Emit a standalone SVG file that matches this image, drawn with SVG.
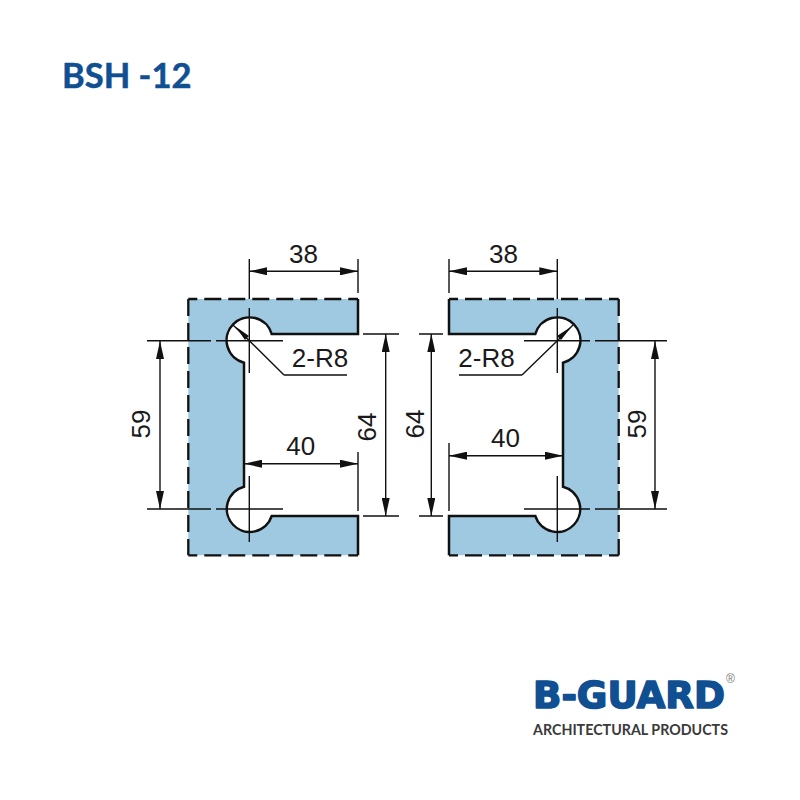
<svg xmlns="http://www.w3.org/2000/svg" width="800" height="800" viewBox="0 0 800 800">
<style>
.body{fill:#9fc8e1;stroke:none}
.edge{fill:none;stroke:#111;stroke-width:2.5}
.cut{fill:none;stroke:#111;stroke-width:2.3;stroke-dasharray:17 7}
.cut.h{stroke-dashoffset:8}
.dim{fill:none;stroke:#111;stroke-width:1.4}
.lab{font-family:"Liberation Sans",Arial,sans-serif;font-size:26px;fill:#1a1a1a;text-anchor:middle}
.head{fill:#111;stroke:none}
</style>
<defs>
<marker id="arr" viewBox="0 0 18 8" refX="18" refY="4" markerWidth="18" markerHeight="8" markerUnits="userSpaceOnUse" orient="auto-start-reverse"><path class="head" d="M0 0L18 4L0 8z"/></marker>
</defs>
<rect width="800" height="800" fill="#fff"/>
<text id="title" x="62" y="88" font-family="Lato,'Open Sans',sans-serif" font-weight="700" font-size="34.5" fill="#0f4f92" stroke="#0f4f92" stroke-width="0.5">BSH -12</text>
<g id="profile-left">
<path class="body" d="M188.3 299H358V334H271.7A23 23 0 1 0 244 362.7V486.7A23 23 0 1 0 271.7 516H358V555.3H188.3Z"/>
<path class="edge" d="M358 299V334H271.7A23 23 0 1 0 244 362.7V486.7A23 23 0 1 0 271.7 516H358V555.3"/>
<path class="cut h" d="M188.3 299H358M188.3 555.3H358"/>
<path class="cut" d="M188.3 299V555.3"/>
</g>
<g id="profile-right">
<path class="body" d="M618.7 299H449V334H535.3A23 23 0 1 1 563 362.7V486.7A23 23 0 1 1 535.3 516H449V555.3H618.7Z"/>
<path class="edge" d="M449 299V334H535.3A23 23 0 1 1 563 362.7V486.7A23 23 0 1 1 535.3 516H449V555.3"/>
<path class="cut h" d="M449 299H618.7M449 555.3H618.7"/>
<path class="cut" d="M618.7 299V555.3"/>
</g>
<g id="connectors">
<path class="dim" d="M249.3 259V299M249.3 308V373M358 259V293M147 340.7H211M216 340.7H283M147 509H211M216 509H283M249.3 476V542M363 334H399M363 516H399M358 452V511M284 375H347"/>
<path class="dim" d="M233 325L249.3 340.7L284 375"/>
<path class="head" d="M235.5 326.5L249 336L245 340Z"/>
<path class="dim" marker-start="url(#arr)" marker-end="url(#arr)" d="M249.3 271.3H358"/>
<path class="dim" marker-start="url(#arr)" marker-end="url(#arr)" d="M244 463.7H358"/>
<path class="dim" marker-start="url(#arr)" marker-end="url(#arr)" d="M160 341V509"/>
<path class="dim" marker-start="url(#arr)" marker-end="url(#arr)" d="M385.7 334V516"/>
<path class="dim" d="M557.3 259V299M557.3 308V373M449 259V293M524 340.7H590M595 340.7H667M524 509H590M595 509H667M557.3 476V542M419 334H443M419 516H443M449 443V511M522 375H459"/>
<path class="dim" d="M573 325L557.3 340.7L522 375"/>
<path class="head" d="M571.5 326.5L561 340L557 336Z"/>
<path class="dim" marker-start="url(#arr)" marker-end="url(#arr)" d="M449 271.3H557.3"/>
<path class="dim" marker-start="url(#arr)" marker-end="url(#arr)" d="M449 455.7H563"/>
<path class="dim" marker-start="url(#arr)" marker-end="url(#arr)" d="M655 341V509"/>
<path class="dim" marker-start="url(#arr)" marker-end="url(#arr)" d="M431.3 334V516"/>
</g>
<g id="labels">
<text class="lab" x="303.5" y="263">38</text>
<text class="lab" x="503.5" y="263">38</text>
<text class="lab" x="300.7" y="454.5">40</text>
<text class="lab" x="505.5" y="447">40</text>
<text class="lab" x="320" y="366.5">2-R8</text>
<text class="lab" x="486.5" y="366.5">2-R8</text>
<text class="lab" transform="translate(150 424) rotate(-90)">59</text>
<text class="lab" transform="translate(376 427) rotate(-90)">64</text>
<text class="lab" transform="translate(424 424) rotate(-90)">64</text>
<text class="lab" transform="translate(646 424) rotate(-90)">59</text>
</g>
<g id="logo">
<text x="533" y="708" font-family="'DejaVu Sans',sans-serif" font-weight="700" font-size="37" fill="#0f4f92" stroke="#0f4f92" stroke-width="1.6" stroke-linejoin="round" textLength="192" lengthAdjust="spacingAndGlyphs">B-GUARD</text>
<text x="726" y="683" font-family="'Liberation Sans',sans-serif" font-size="12" fill="#777">®</text>
<text x="533" y="735" font-family="Lato,'Open Sans',sans-serif" font-weight="700" font-size="15" fill="#3a3a3a" textLength="195" lengthAdjust="spacingAndGlyphs">ARCHITECTURAL PRODUCTS</text>
</g>
</svg>
